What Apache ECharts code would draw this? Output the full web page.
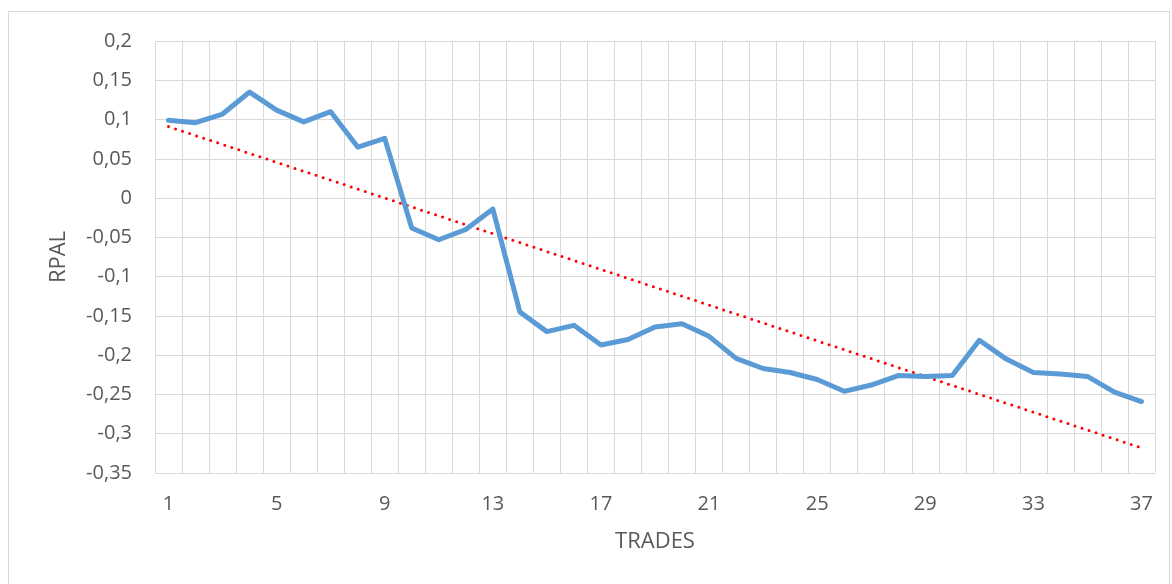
<!DOCTYPE html>
<html>
<head>
<meta charset="utf-8">
<script src="https://cdn.jsdelivr.net/npm/echarts@6/dist/echarts.min.js"></script>
<style>
html,body{margin:0;padding:0;background:#fff;}
#frame{position:absolute;left:8px;top:11px;width:1162px;height:580px;border:1px solid #D9D9D9;box-sizing:border-box;}
#chart{position:absolute;left:0;top:0;width:1172px;height:584px;}
</style>
</head>
<body>
<div id="frame"></div>
<div id="chart"></div>
<script>
const trades = Array.from({length: 37}, (_, i) => String(i + 1));
const rpal = [0.099, 0.096, 0.107, 0.135, 0.112, 0.097, 0.110, 0.065, 0.076, -0.038,
  -0.053, -0.040, -0.014, -0.145, -0.170, -0.162, -0.187, -0.180, -0.164, -0.160,
  -0.176, -0.204, -0.217, -0.222, -0.231, -0.246, -0.238, -0.226, -0.227, -0.226,
  -0.181, -0.205, -0.222, -0.224, -0.227, -0.247, -0.259];
const trendEnds = [['1', 0.091], ['37', -0.318]];
const yMin = -0.35, yMax = 0.2, yStep = 0.05;

const chart = echarts.init(document.getElementById('chart'));
const font = 'Open Sans';
chart.setOption({
  animation: false,
  grid: {left: 155, right: 17, top: 41, bottom: 111, containLabel: false},
  xAxis: {
    type: 'category',
    data: trades,
    boundaryGap: true,
    name: 'TRADES',
    nameLocation: 'middle',
    nameGap: 58,
    nameTextStyle: {color: '#595959', fontSize: 22, fontFamily: font},
    axisLine: {show: true, lineStyle: {color: '#D9D9D9', width: 1}},
    axisTick: {show: false},
    axisLabel: {interval: 3, color: '#595959', fontSize: 20, fontFamily: font, margin: 21},
    splitLine: {show: true, interval: 0, lineStyle: {color: '#D9D9D9', width: 1}}
  },
  yAxis: {
    type: 'value',
    min: yMin, max: yMax, interval: yStep,
    name: 'RPAL',
    nameLocation: 'middle',
    nameGap: 85,
    nameRotate: 90,
    nameTextStyle: {color: '#595959', fontSize: 22, fontFamily: font},
    axisLine: {show: false},
    axisTick: {show: false},
    axisLabel: {color: '#595959', fontSize: 20, fontFamily: font, margin: 23,
      formatter: v => String(+v.toFixed(2)).replace('.', ',')},
    splitLine: {show: true, lineStyle: {color: '#D9D9D9', width: 1}}
  },
  series: [
    {
      type: 'line',
      data: rpal,
      symbol: 'none',
      lineStyle: {color: '#5B9BD5', width: 5, join: 'round', cap: 'round'},
      z: 3
    },
    {
      type: 'line',
      data: trendEnds,
      symbol: 'none',
      lineStyle: {color: '#FF0000', width: 3, type: [0, 7.4], cap: 'round'},
      z: 2
    }
  ]
});
</script>
</body>
</html>
